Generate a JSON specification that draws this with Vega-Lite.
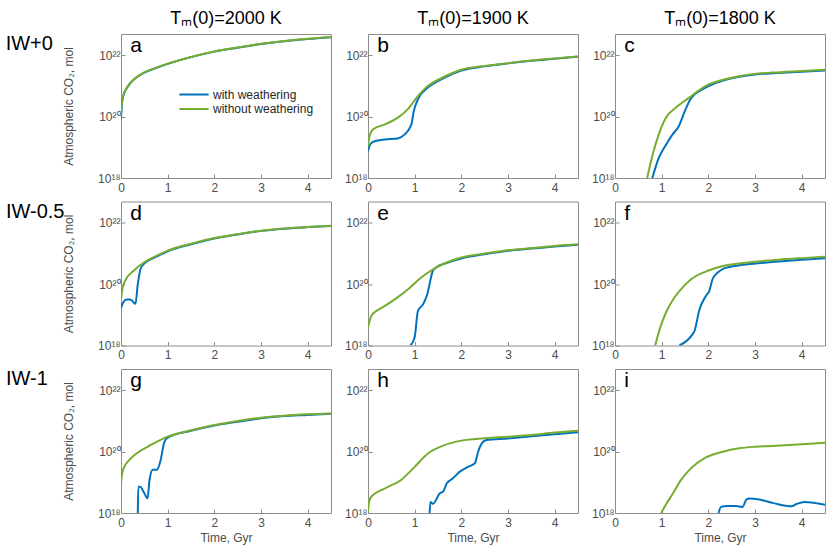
{
  "$schema": "https://vega.github.io/schema/vega-lite/v6.json",
  "padding": {"left": 5, "top": 9, "right": 3, "bottom": 3},
  "datasets": {
    "runs": [
      {"panel": "a", "series": "with weathering", "time": 0, "co2": 8.9e19},
      {"panel": "a", "series": "with weathering", "time": 0.02, "co2": 2.6e20},
      {"panel": "a", "series": "with weathering", "time": 0.05, "co2": 4.8e20},
      {"panel": "a", "series": "with weathering", "time": 0.1, "co2": 7.4e20},
      {"panel": "a", "series": "with weathering", "time": 0.2, "co2": 1.24e21},
      {"panel": "a", "series": "with weathering", "time": 0.3, "co2": 1.75e21},
      {"panel": "a", "series": "with weathering", "time": 0.5, "co2": 2.75e21},
      {"panel": "a", "series": "with weathering", "time": 0.7, "co2": 3.65e21},
      {"panel": "a", "series": "with weathering", "time": 1, "co2": 5.3e21},
      {"panel": "a", "series": "with weathering", "time": 1.5, "co2": 8.8e21},
      {"panel": "a", "series": "with weathering", "time": 2, "co2": 1.33e22},
      {"panel": "a", "series": "with weathering", "time": 2.5, "co2": 1.78e22},
      {"panel": "a", "series": "with weathering", "time": 3, "co2": 2.35e22},
      {"panel": "a", "series": "with weathering", "time": 3.5, "co2": 2.9e22},
      {"panel": "a", "series": "with weathering", "time": 4, "co2": 3.45e22},
      {"panel": "a", "series": "with weathering", "time": 4.5, "co2": 3.95e22},
      {"panel": "a", "series": "without weathering", "time": 0, "co2": 1.1e20},
      {"panel": "a", "series": "without weathering", "time": 0.02, "co2": 2.8e20},
      {"panel": "a", "series": "without weathering", "time": 0.05, "co2": 5.0e20},
      {"panel": "a", "series": "without weathering", "time": 0.1, "co2": 7.6e20},
      {"panel": "a", "series": "without weathering", "time": 0.2, "co2": 1.26e21},
      {"panel": "a", "series": "without weathering", "time": 0.3, "co2": 1.78e21},
      {"panel": "a", "series": "without weathering", "time": 0.5, "co2": 2.8e21},
      {"panel": "a", "series": "without weathering", "time": 0.7, "co2": 3.7e21},
      {"panel": "a", "series": "without weathering", "time": 1, "co2": 5.4e21},
      {"panel": "a", "series": "without weathering", "time": 1.5, "co2": 8.9e21},
      {"panel": "a", "series": "without weathering", "time": 2, "co2": 1.35e22},
      {"panel": "a", "series": "without weathering", "time": 2.5, "co2": 1.8e22},
      {"panel": "a", "series": "without weathering", "time": 3, "co2": 2.4e22},
      {"panel": "a", "series": "without weathering", "time": 3.5, "co2": 2.95e22},
      {"panel": "a", "series": "without weathering", "time": 4, "co2": 3.5e22},
      {"panel": "a", "series": "without weathering", "time": 4.5, "co2": 4.0e22},

      {"panel": "b", "series": "with weathering", "time": 0, "co2": 7.6e18},
      {"panel": "b", "series": "with weathering", "time": 0.05, "co2": 1.26e19},
      {"panel": "b", "series": "with weathering", "time": 0.14, "co2": 1.58e19},
      {"panel": "b", "series": "with weathering", "time": 0.36, "co2": 1.8e19},
      {"panel": "b", "series": "with weathering", "time": 0.64, "co2": 1.95e19},
      {"panel": "b", "series": "with weathering", "time": 0.78, "co2": 2.6e19},
      {"panel": "b", "series": "with weathering", "time": 0.93, "co2": 5.6e19},
      {"panel": "b", "series": "with weathering", "time": 0.98, "co2": 1.5e20},
      {"panel": "b", "series": "with weathering", "time": 1.07, "co2": 3.7e20},
      {"panel": "b", "series": "with weathering", "time": 1.28, "co2": 8.9e20},
      {"panel": "b", "series": "with weathering", "time": 1.57, "co2": 1.66e21},
      {"panel": "b", "series": "with weathering", "time": 2, "co2": 3.2e21},
      {"panel": "b", "series": "with weathering", "time": 2.5, "co2": 4.4e21},
      {"panel": "b", "series": "with weathering", "time": 3, "co2": 5.5e21},
      {"panel": "b", "series": "with weathering", "time": 3.5, "co2": 6.7e21},
      {"panel": "b", "series": "with weathering", "time": 4, "co2": 7.8e21},
      {"panel": "b", "series": "with weathering", "time": 4.5, "co2": 9.1e21},
      {"panel": "b", "series": "without weathering", "time": 0, "co2": 1.1e19},
      {"panel": "b", "series": "without weathering", "time": 0.03, "co2": 2.2e19},
      {"panel": "b", "series": "without weathering", "time": 0.11, "co2": 3.9e19},
      {"panel": "b", "series": "without weathering", "time": 0.36, "co2": 5.6e19},
      {"panel": "b", "series": "without weathering", "time": 0.64, "co2": 9.3e19},
      {"panel": "b", "series": "without weathering", "time": 0.85, "co2": 1.74e20},
      {"panel": "b", "series": "without weathering", "time": 1.07, "co2": 4.7e20},
      {"panel": "b", "series": "without weathering", "time": 1.28, "co2": 1.0e21},
      {"panel": "b", "series": "without weathering", "time": 1.57, "co2": 1.8e21},
      {"panel": "b", "series": "without weathering", "time": 2, "co2": 3.4e21},
      {"panel": "b", "series": "without weathering", "time": 2.5, "co2": 4.5e21},
      {"panel": "b", "series": "without weathering", "time": 3, "co2": 5.6e21},
      {"panel": "b", "series": "without weathering", "time": 3.5, "co2": 6.8e21},
      {"panel": "b", "series": "without weathering", "time": 4, "co2": 7.9e21},
      {"panel": "b", "series": "without weathering", "time": 4.5, "co2": 9.3e21},

      {"panel": "c", "series": "with weathering", "time": 0.8, "co2": 1.0e18},
      {"panel": "c", "series": "with weathering", "time": 0.94, "co2": 4.6e18},
      {"panel": "c", "series": "with weathering", "time": 1.1, "co2": 1.26e19},
      {"panel": "c", "series": "with weathering", "time": 1.23, "co2": 2.6e19},
      {"panel": "c", "series": "with weathering", "time": 1.37, "co2": 5.0e19},
      {"panel": "c", "series": "with weathering", "time": 1.5, "co2": 1.58e20},
      {"panel": "c", "series": "with weathering", "time": 1.62, "co2": 3.8e20},
      {"panel": "c", "series": "with weathering", "time": 1.94, "co2": 8.9e20},
      {"panel": "c", "series": "with weathering", "time": 2.3, "co2": 1.48e21},
      {"panel": "c", "series": "with weathering", "time": 2.66, "co2": 2.0e21},
      {"panel": "c", "series": "with weathering", "time": 3, "co2": 2.4e21},
      {"panel": "c", "series": "with weathering", "time": 3.37, "co2": 2.6e21},
      {"panel": "c", "series": "with weathering", "time": 4, "co2": 2.95e21},
      {"panel": "c", "series": "with weathering", "time": 4.5, "co2": 3.2e21},
      {"panel": "c", "series": "without weathering", "time": 0.69, "co2": 1.0e18},
      {"panel": "c", "series": "without weathering", "time": 0.78, "co2": 4.0e18},
      {"panel": "c", "series": "without weathering", "time": 0.87, "co2": 1.26e19},
      {"panel": "c", "series": "without weathering", "time": 0.98, "co2": 4.0e19},
      {"panel": "c", "series": "without weathering", "time": 1.09, "co2": 9.3e19},
      {"panel": "c", "series": "without weathering", "time": 1.3, "co2": 1.95e20},
      {"panel": "c", "series": "without weathering", "time": 1.59, "co2": 4.2e20},
      {"panel": "c", "series": "without weathering", "time": 1.94, "co2": 1.0e21},
      {"panel": "c", "series": "without weathering", "time": 2.3, "co2": 1.58e21},
      {"panel": "c", "series": "without weathering", "time": 2.66, "co2": 2.1e21},
      {"panel": "c", "series": "without weathering", "time": 3, "co2": 2.5e21},
      {"panel": "c", "series": "without weathering", "time": 3.37, "co2": 2.75e21},
      {"panel": "c", "series": "without weathering", "time": 4, "co2": 3.1e21},
      {"panel": "c", "series": "without weathering", "time": 4.5, "co2": 3.4e21},

      {"panel": "d", "series": "with weathering", "time": 0, "co2": 1.7e19},
      {"panel": "d", "series": "with weathering", "time": 0.05, "co2": 2.6e19},
      {"panel": "d", "series": "with weathering", "time": 0.12, "co2": 3.2e19},
      {"panel": "d", "series": "with weathering", "time": 0.2, "co2": 3.2e19},
      {"panel": "d", "series": "with weathering", "time": 0.31, "co2": 2.3e19},
      {"panel": "d", "series": "with weathering", "time": 0.36, "co2": 1.0e20},
      {"panel": "d", "series": "with weathering", "time": 0.42, "co2": 3.2e20},
      {"panel": "d", "series": "with weathering", "time": 0.49, "co2": 4.6e20},
      {"panel": "d", "series": "with weathering", "time": 0.75, "co2": 7.8e20},
      {"panel": "d", "series": "with weathering", "time": 0.99, "co2": 1.17e21},
      {"panel": "d", "series": "with weathering", "time": 1.5, "co2": 2.0e21},
      {"panel": "d", "series": "with weathering", "time": 2, "co2": 3.1e21},
      {"panel": "d", "series": "with weathering", "time": 2.5, "co2": 4.2e21},
      {"panel": "d", "series": "with weathering", "time": 3, "co2": 5.5e21},
      {"panel": "d", "series": "with weathering", "time": 3.5, "co2": 6.5e21},
      {"panel": "d", "series": "with weathering", "time": 4, "co2": 7.3e21},
      {"panel": "d", "series": "with weathering", "time": 4.5, "co2": 8.0e21},
      {"panel": "d", "series": "without weathering", "time": 0, "co2": 3.2e19},
      {"panel": "d", "series": "without weathering", "time": 0.03, "co2": 7.1e19},
      {"panel": "d", "series": "without weathering", "time": 0.09, "co2": 1.3e20},
      {"panel": "d", "series": "without weathering", "time": 0.27, "co2": 2.75e20},
      {"panel": "d", "series": "without weathering", "time": 0.49, "co2": 5.1e20},
      {"panel": "d", "series": "without weathering", "time": 0.75, "co2": 8.3e20},
      {"panel": "d", "series": "without weathering", "time": 0.99, "co2": 1.23e21},
      {"panel": "d", "series": "without weathering", "time": 1.5, "co2": 2.1e21},
      {"panel": "d", "series": "without weathering", "time": 2, "co2": 3.2e21},
      {"panel": "d", "series": "without weathering", "time": 2.5, "co2": 4.3e21},
      {"panel": "d", "series": "without weathering", "time": 3, "co2": 5.6e21},
      {"panel": "d", "series": "without weathering", "time": 3.5, "co2": 6.6e21},
      {"panel": "d", "series": "without weathering", "time": 4, "co2": 7.4e21},
      {"panel": "d", "series": "without weathering", "time": 4.5, "co2": 8.1e21},

      {"panel": "e", "series": "with weathering", "time": 0.91, "co2": 1.0e18},
      {"panel": "e", "series": "with weathering", "time": 1, "co2": 1.86e18},
      {"panel": "e", "series": "with weathering", "time": 1.07, "co2": 1.35e19},
      {"panel": "e", "series": "with weathering", "time": 1.18, "co2": 2.2e19},
      {"panel": "e", "series": "with weathering", "time": 1.27, "co2": 4.7e19},
      {"panel": "e", "series": "with weathering", "time": 1.39, "co2": 2.75e20},
      {"panel": "e", "series": "with weathering", "time": 1.46, "co2": 3.5e20},
      {"panel": "e", "series": "with weathering", "time": 1.7, "co2": 5.0e20},
      {"panel": "e", "series": "with weathering", "time": 2, "co2": 6.9e20},
      {"panel": "e", "series": "with weathering", "time": 2.5, "co2": 9.5e20},
      {"panel": "e", "series": "with weathering", "time": 3, "co2": 1.23e21},
      {"panel": "e", "series": "with weathering", "time": 3.5, "co2": 1.45e21},
      {"panel": "e", "series": "with weathering", "time": 4, "co2": 1.7e21},
      {"panel": "e", "series": "with weathering", "time": 4.5, "co2": 1.95e21},
      {"panel": "e", "series": "without weathering", "time": 0, "co2": 3.8e18},
      {"panel": "e", "series": "without weathering", "time": 0.07, "co2": 9.1e18},
      {"panel": "e", "series": "without weathering", "time": 0.2, "co2": 1.4e19},
      {"panel": "e", "series": "without weathering", "time": 0.36, "co2": 1.95e19},
      {"panel": "e", "series": "without weathering", "time": 0.64, "co2": 3.8e19},
      {"panel": "e", "series": "without weathering", "time": 0.86, "co2": 6.9e19},
      {"panel": "e", "series": "without weathering", "time": 1.14, "co2": 1.66e20},
      {"panel": "e", "series": "without weathering", "time": 1.43, "co2": 3.3e20},
      {"panel": "e", "series": "without weathering", "time": 1.7, "co2": 5.2e20},
      {"panel": "e", "series": "without weathering", "time": 2, "co2": 7.4e20},
      {"panel": "e", "series": "without weathering", "time": 2.5, "co2": 1.0e21},
      {"panel": "e", "series": "without weathering", "time": 3, "co2": 1.29e21},
      {"panel": "e", "series": "without weathering", "time": 3.5, "co2": 1.5e21},
      {"panel": "e", "series": "without weathering", "time": 4, "co2": 1.78e21},
      {"panel": "e", "series": "without weathering", "time": 4.5, "co2": 2.0e21},

      {"panel": "f", "series": "with weathering", "time": 1.38, "co2": 1.0e18},
      {"panel": "f", "series": "with weathering", "time": 1.66, "co2": 2.3e18},
      {"panel": "f", "series": "with weathering", "time": 1.7, "co2": 2.9e18},
      {"panel": "f", "series": "with weathering", "time": 1.81, "co2": 1.5e19},
      {"panel": "f", "series": "with weathering", "time": 1.95, "co2": 4.2e19},
      {"panel": "f", "series": "with weathering", "time": 2.02, "co2": 6.0e19},
      {"panel": "f", "series": "with weathering", "time": 2.09, "co2": 1.45e20},
      {"panel": "f", "series": "with weathering", "time": 2.2, "co2": 2.4e20},
      {"panel": "f", "series": "with weathering", "time": 2.34, "co2": 3.3e20},
      {"panel": "f", "series": "with weathering", "time": 2.7, "co2": 4.2e20},
      {"panel": "f", "series": "with weathering", "time": 3.06, "co2": 4.8e20},
      {"panel": "f", "series": "with weathering", "time": 3.5, "co2": 5.5e20},
      {"panel": "f", "series": "with weathering", "time": 4, "co2": 6.3e20},
      {"panel": "f", "series": "with weathering", "time": 4.5, "co2": 7.1e20},
      {"panel": "f", "series": "without weathering", "time": 0.86, "co2": 1.0e18},
      {"panel": "f", "series": "without weathering", "time": 0.99, "co2": 4.8e18},
      {"panel": "f", "series": "without weathering", "time": 1.1, "co2": 1.26e19},
      {"panel": "f", "series": "without weathering", "time": 1.27, "co2": 3.6e19},
      {"panel": "f", "series": "without weathering", "time": 1.45, "co2": 7.9e19},
      {"panel": "f", "series": "without weathering", "time": 1.63, "co2": 1.45e20},
      {"panel": "f", "series": "without weathering", "time": 1.99, "co2": 2.75e20},
      {"panel": "f", "series": "without weathering", "time": 2.34, "co2": 4.0e20},
      {"panel": "f", "series": "without weathering", "time": 2.7, "co2": 4.8e20},
      {"panel": "f", "series": "without weathering", "time": 3.06, "co2": 5.5e20},
      {"panel": "f", "series": "without weathering", "time": 3.5, "co2": 6.3e20},
      {"panel": "f", "series": "without weathering", "time": 4, "co2": 7.1e20},
      {"panel": "f", "series": "without weathering", "time": 4.5, "co2": 7.9e20},

      {"panel": "g", "series": "with weathering", "time": 0.36, "co2": 1.0e18},
      {"panel": "g", "series": "with weathering", "time": 0.37, "co2": 7.2e18},
      {"panel": "g", "series": "with weathering", "time": 0.41, "co2": 7.2e18},
      {"panel": "g", "series": "with weathering", "time": 0.5, "co2": 4.4e18},
      {"panel": "g", "series": "with weathering", "time": 0.57, "co2": 3.0e18},
      {"panel": "g", "series": "with weathering", "time": 0.61, "co2": 1.17e19},
      {"panel": "g", "series": "with weathering", "time": 0.68, "co2": 2.6e19},
      {"panel": "g", "series": "with weathering", "time": 0.77, "co2": 2.6e19},
      {"panel": "g", "series": "with weathering", "time": 0.84, "co2": 4.6e19},
      {"panel": "g", "series": "with weathering", "time": 0.93, "co2": 2.1e20},
      {"panel": "g", "series": "with weathering", "time": 1, "co2": 2.9e20},
      {"panel": "g", "series": "with weathering", "time": 1.5, "co2": 4.8e20},
      {"panel": "g", "series": "with weathering", "time": 2, "co2": 7.1e20},
      {"panel": "g", "series": "with weathering", "time": 2.5, "co2": 9.5e20},
      {"panel": "g", "series": "with weathering", "time": 3, "co2": 1.23e21},
      {"panel": "g", "series": "with weathering", "time": 3.5, "co2": 1.45e21},
      {"panel": "g", "series": "with weathering", "time": 4, "co2": 1.58e21},
      {"panel": "g", "series": "with weathering", "time": 4.5, "co2": 1.74e21},
      {"panel": "g", "series": "without weathering", "time": 0, "co2": 9.3e18},
      {"panel": "g", "series": "without weathering", "time": 0.02, "co2": 1.78e19},
      {"panel": "g", "series": "without weathering", "time": 0.07, "co2": 3.2e19},
      {"panel": "g", "series": "without weathering", "time": 0.15, "co2": 4.8e19},
      {"panel": "g", "series": "without weathering", "time": 0.29, "co2": 7.8e19},
      {"panel": "g", "series": "without weathering", "time": 0.64, "co2": 1.66e20},
      {"panel": "g", "series": "without weathering", "time": 1, "co2": 3.1e20},
      {"panel": "g", "series": "without weathering", "time": 1.5, "co2": 5.0e20},
      {"panel": "g", "series": "without weathering", "time": 2, "co2": 7.4e20},
      {"panel": "g", "series": "without weathering", "time": 2.5, "co2": 1.0e21},
      {"panel": "g", "series": "without weathering", "time": 3, "co2": 1.29e21},
      {"panel": "g", "series": "without weathering", "time": 3.5, "co2": 1.5e21},
      {"panel": "g", "series": "without weathering", "time": 4, "co2": 1.66e21},
      {"panel": "g", "series": "without weathering", "time": 4.5, "co2": 1.78e21},

      {"panel": "h", "series": "with weathering", "time": 1.32, "co2": 1.0e18},
      {"panel": "h", "series": "with weathering", "time": 1.34, "co2": 2.3e18},
      {"panel": "h", "series": "with weathering", "time": 1.39, "co2": 2.0e18},
      {"panel": "h", "series": "with weathering", "time": 1.54, "co2": 4.4e18},
      {"panel": "h", "series": "with weathering", "time": 1.61, "co2": 5.0e18},
      {"panel": "h", "series": "with weathering", "time": 1.69, "co2": 9.3e18},
      {"panel": "h", "series": "with weathering", "time": 1.82, "co2": 1.35e19},
      {"panel": "h", "series": "with weathering", "time": 1.96, "co2": 2.2e19},
      {"panel": "h", "series": "with weathering", "time": 2.14, "co2": 3.2e19},
      {"panel": "h", "series": "with weathering", "time": 2.29, "co2": 4.2e19},
      {"panel": "h", "series": "with weathering", "time": 2.36, "co2": 1.0e20},
      {"panel": "h", "series": "with weathering", "time": 2.43, "co2": 1.78e20},
      {"panel": "h", "series": "with weathering", "time": 2.54, "co2": 2.4e20},
      {"panel": "h", "series": "with weathering", "time": 3, "co2": 2.7e20},
      {"panel": "h", "series": "with weathering", "time": 3.5, "co2": 3.2e20},
      {"panel": "h", "series": "with weathering", "time": 4, "co2": 3.7e20},
      {"panel": "h", "series": "with weathering", "time": 4.5, "co2": 4.3e20},
      {"panel": "h", "series": "without weathering", "time": 0, "co2": 1.07e18},
      {"panel": "h", "series": "without weathering", "time": 0.02, "co2": 2.2e18},
      {"panel": "h", "series": "without weathering", "time": 0.07, "co2": 3.4e18},
      {"panel": "h", "series": "without weathering", "time": 0.36, "co2": 6.3e18},
      {"panel": "h", "series": "without weathering", "time": 0.71, "co2": 1.2e19},
      {"panel": "h", "series": "without weathering", "time": 1, "co2": 3.2e19},
      {"panel": "h", "series": "without weathering", "time": 1.29, "co2": 8.9e19},
      {"panel": "h", "series": "without weathering", "time": 1.57, "co2": 1.5e20},
      {"panel": "h", "series": "without weathering", "time": 2, "co2": 2.3e20},
      {"panel": "h", "series": "without weathering", "time": 2.5, "co2": 2.75e20},
      {"panel": "h", "series": "without weathering", "time": 3, "co2": 3.1e20},
      {"panel": "h", "series": "without weathering", "time": 3.5, "co2": 3.5e20},
      {"panel": "h", "series": "without weathering", "time": 4, "co2": 4.2e20},
      {"panel": "h", "series": "without weathering", "time": 4.5, "co2": 4.8e20},

      {"panel": "i", "series": "with weathering", "time": 2.22, "co2": 1.0e18},
      {"panel": "i", "series": "with weathering", "time": 2.27, "co2": 1.58e18},
      {"panel": "i", "series": "with weathering", "time": 2.41, "co2": 1.7e18},
      {"panel": "i", "series": "with weathering", "time": 2.6, "co2": 1.7e18},
      {"panel": "i", "series": "with weathering", "time": 2.73, "co2": 1.58e18},
      {"panel": "i", "series": "with weathering", "time": 2.82, "co2": 2.8e18},
      {"panel": "i", "series": "with weathering", "time": 2.88, "co2": 2.95e18},
      {"panel": "i", "series": "with weathering", "time": 3.06, "co2": 2.8e18},
      {"panel": "i", "series": "with weathering", "time": 3.4, "co2": 2.1e18},
      {"panel": "i", "series": "with weathering", "time": 3.78, "co2": 1.66e18},
      {"panel": "i", "series": "with weathering", "time": 3.9, "co2": 2.0e18},
      {"panel": "i", "series": "with weathering", "time": 4.06, "co2": 2.3e18},
      {"panel": "i", "series": "with weathering", "time": 4.3, "co2": 2.1e18},
      {"panel": "i", "series": "with weathering", "time": 4.5, "co2": 1.86e18},
      {"panel": "i", "series": "without weathering", "time": 0.99, "co2": 1.0e18},
      {"panel": "i", "series": "without weathering", "time": 1.1, "co2": 2.0e18},
      {"panel": "i", "series": "without weathering", "time": 1.24, "co2": 4.3e18},
      {"panel": "i", "series": "without weathering", "time": 1.4, "co2": 1.12e19},
      {"panel": "i", "series": "without weathering", "time": 1.59, "co2": 2.5e19},
      {"panel": "i", "series": "without weathering", "time": 1.95, "co2": 6.5e19},
      {"panel": "i", "series": "without weathering", "time": 2.31, "co2": 1.0e20},
      {"panel": "i", "series": "without weathering", "time": 2.66, "co2": 1.29e20},
      {"panel": "i", "series": "without weathering", "time": 3, "co2": 1.45e20},
      {"panel": "i", "series": "without weathering", "time": 3.38, "co2": 1.55e20},
      {"panel": "i", "series": "without weathering", "time": 4, "co2": 1.74e20},
      {"panel": "i", "series": "without weathering", "time": 4.5, "co2": 1.95e20}
    ]
  },
  "spacing": 6.5,
  "resolve": {"scale": {"color": "independent"}, "legend": {"color": "independent"}},
  "vconcat": [
    {
      "title": {"text": "IW+0", "orient": "left", "angle": 0, "align": "left", "baseline": "top", "anchor": "end", "frame": "group", "offset": 9.2, "fontSize": 20},
      "spacing": 37,
      "bounds": "flush",
      "resolve": {"scale": {"color": "independent"}, "legend": {"color": "independent"}},
      "hconcat": [
        {
          "width": 210, "height": 144,
          "title": {"text": "Tₘ(0)=2000 K"},
          "layer": [
            {
              "data": {"name": "runs"},
              "transform": [{"filter": "datum.panel == 'a'"}],
              "mark": {"type": "line", "interpolate": "monotone", "strokeWidth": 2, "clip": true},
              "encoding": {
                "x": {"field": "time", "type": "quantitative", "scale": {"domain": [0, 4.5], "nice": false}, "axis": {"values": [0, 1, 2, 3, 4], "title": null}},
                "y": {"field": "co2", "type": "quantitative", "scale": {"type": "log", "domain": [1e18, 5e22], "nice": false}, "axis": {"values": [1e18, 1e20, 1e22], "labelExpr": "datum.value >= 1e22 ? '10²²' : datum.value >= 1e20 ? '10²⁰' : '10¹⁸'", "title": "Atmospheric CO₂, mol"}},
                "color": {"field": "series", "type": "nominal", "scale": {"domain": ["with weathering", "without weathering"], "range": ["#0072BD", "#77AC30"]},
                  "legend": {"orient": "none", "legendX": 65, "legendY": 52.5, "title": null, "symbolType": "M-2.25,0H2.25", "symbolSize": 170, "symbolStrokeWidth": 2, "labelFontSize": 12, "labelColor": "#262626", "labelOffset": 11, "rowPadding": 0.5, "padding": 0}}
              }
            },
            {
              "data": {"values": [{"label": "a"}]},
              "mark": {"type": "text", "align": "left", "baseline": "top", "fontSize": 21, "dy": 1},
              "encoding": {"x": {"datum": 0.2}, "y": {"datum": 5e22}, "text": {"field": "label"}}
            }
          ]
        },
        {
          "width": 210, "height": 144,
          "title": {"text": "Tₘ(0)=1900 K"},
          "layer": [
            {
              "data": {"name": "runs"},
              "transform": [{"filter": "datum.panel == 'b'"}],
              "mark": {"type": "line", "interpolate": "monotone", "strokeWidth": 2, "clip": true},
              "encoding": {
                "x": {"field": "time", "type": "quantitative", "scale": {"domain": [0, 4.5], "nice": false}, "axis": {"values": [0, 1, 2, 3, 4], "title": null}},
                "y": {"field": "co2", "type": "quantitative", "scale": {"type": "log", "domain": [1e18, 5e22], "nice": false}, "axis": {"values": [1e18, 1e20, 1e22], "labelExpr": "datum.value >= 1e22 ? '10²²' : datum.value >= 1e20 ? '10²⁰' : '10¹⁸'", "title": null}},
                "color": {"field": "series", "type": "nominal", "scale": {"domain": ["with weathering", "without weathering"], "range": ["#0072BD", "#77AC30"]}, "legend": null}
              }
            },
            {
              "data": {"values": [{"label": "b"}]},
              "mark": {"type": "text", "align": "left", "baseline": "top", "fontSize": 21, "dy": 1},
              "encoding": {"x": {"datum": 0.2}, "y": {"datum": 5e22}, "text": {"field": "label"}}
            }
          ]
        },
        {
          "width": 210, "height": 144,
          "title": {"text": "Tₘ(0)=1800 K"},
          "layer": [
            {
              "data": {"name": "runs"},
              "transform": [{"filter": "datum.panel == 'c'"}],
              "mark": {"type": "line", "interpolate": "monotone", "strokeWidth": 2, "clip": true},
              "encoding": {
                "x": {"field": "time", "type": "quantitative", "scale": {"domain": [0, 4.5], "nice": false}, "axis": {"values": [0, 1, 2, 3, 4], "title": null}},
                "y": {"field": "co2", "type": "quantitative", "scale": {"type": "log", "domain": [1e18, 5e22], "nice": false}, "axis": {"values": [1e18, 1e20, 1e22], "labelExpr": "datum.value >= 1e22 ? '10²²' : datum.value >= 1e20 ? '10²⁰' : '10¹⁸'", "title": null}},
                "color": {"field": "series", "type": "nominal", "scale": {"domain": ["with weathering", "without weathering"], "range": ["#0072BD", "#77AC30"]}, "legend": null}
              }
            },
            {
              "data": {"values": [{"label": "c"}]},
              "mark": {"type": "text", "align": "left", "baseline": "top", "fontSize": 21, "dy": 1},
              "encoding": {"x": {"datum": 0.2}, "y": {"datum": 5e22}, "text": {"field": "label"}}
            }
          ]
        }
      ]
    },
    {
      "title": {"text": "IW-0.5", "orient": "left", "angle": 0, "align": "left", "baseline": "top", "anchor": "end", "frame": "group", "offset": -2.4, "fontSize": 20},
      "spacing": 37,
      "bounds": "flush",
      "resolve": {"scale": {"color": "independent"}, "legend": {"color": "independent"}},
      "hconcat": [
        {
          "width": 210, "height": 144,
          "layer": [
            {
              "data": {"name": "runs"},
              "transform": [{"filter": "datum.panel == 'd'"}],
              "mark": {"type": "line", "interpolate": "monotone", "strokeWidth": 2, "clip": true},
              "encoding": {
                "x": {"field": "time", "type": "quantitative", "scale": {"domain": [0, 4.5], "nice": false}, "axis": {"values": [0, 1, 2, 3, 4], "title": null}},
                "y": {"field": "co2", "type": "quantitative", "scale": {"type": "log", "domain": [1e18, 5e22], "nice": false}, "axis": {"values": [1e18, 1e20, 1e22], "labelExpr": "datum.value >= 1e22 ? '10²²' : datum.value >= 1e20 ? '10²⁰' : '10¹⁸'", "title": "Atmospheric CO₂, mol"}},
                "color": {"field": "series", "type": "nominal", "scale": {"domain": ["with weathering", "without weathering"], "range": ["#0072BD", "#77AC30"]}, "legend": null}
              }
            },
            {
              "data": {"values": [{"label": "d"}]},
              "mark": {"type": "text", "align": "left", "baseline": "top", "fontSize": 21, "dy": 1},
              "encoding": {"x": {"datum": 0.2}, "y": {"datum": 5e22}, "text": {"field": "label"}}
            }
          ]
        },
        {
          "width": 210, "height": 144,
          "layer": [
            {
              "data": {"name": "runs"},
              "transform": [{"filter": "datum.panel == 'e'"}],
              "mark": {"type": "line", "interpolate": "monotone", "strokeWidth": 2, "clip": true},
              "encoding": {
                "x": {"field": "time", "type": "quantitative", "scale": {"domain": [0, 4.5], "nice": false}, "axis": {"values": [0, 1, 2, 3, 4], "title": null}},
                "y": {"field": "co2", "type": "quantitative", "scale": {"type": "log", "domain": [1e18, 5e22], "nice": false}, "axis": {"values": [1e18, 1e20, 1e22], "labelExpr": "datum.value >= 1e22 ? '10²²' : datum.value >= 1e20 ? '10²⁰' : '10¹⁸'", "title": null}},
                "color": {"field": "series", "type": "nominal", "scale": {"domain": ["with weathering", "without weathering"], "range": ["#0072BD", "#77AC30"]}, "legend": null}
              }
            },
            {
              "data": {"values": [{"label": "e"}]},
              "mark": {"type": "text", "align": "left", "baseline": "top", "fontSize": 21, "dy": 1},
              "encoding": {"x": {"datum": 0.2}, "y": {"datum": 5e22}, "text": {"field": "label"}}
            }
          ]
        },
        {
          "width": 210, "height": 144,
          "layer": [
            {
              "data": {"name": "runs"},
              "transform": [{"filter": "datum.panel == 'f'"}],
              "mark": {"type": "line", "interpolate": "monotone", "strokeWidth": 2, "clip": true},
              "encoding": {
                "x": {"field": "time", "type": "quantitative", "scale": {"domain": [0, 4.5], "nice": false}, "axis": {"values": [0, 1, 2, 3, 4], "title": null}},
                "y": {"field": "co2", "type": "quantitative", "scale": {"type": "log", "domain": [1e18, 5e22], "nice": false}, "axis": {"values": [1e18, 1e20, 1e22], "labelExpr": "datum.value >= 1e22 ? '10²²' : datum.value >= 1e20 ? '10²⁰' : '10¹⁸'", "title": null}},
                "color": {"field": "series", "type": "nominal", "scale": {"domain": ["with weathering", "without weathering"], "range": ["#0072BD", "#77AC30"]}, "legend": null}
              }
            },
            {
              "data": {"values": [{"label": "f"}]},
              "mark": {"type": "text", "align": "left", "baseline": "top", "fontSize": 21, "dy": 1},
              "encoding": {"x": {"datum": 0.2}, "y": {"datum": 5e22}, "text": {"field": "label"}}
            }
          ]
        }
      ]
    },
    {
      "title": {"text": "IW-1", "orient": "left", "angle": 0, "align": "left", "baseline": "top", "anchor": "end", "frame": "group", "offset": 14.3, "fontSize": 20},
      "spacing": 37,
      "bounds": "flush",
      "resolve": {"scale": {"color": "independent"}, "legend": {"color": "independent"}},
      "hconcat": [
        {
          "width": 210, "height": 144,
          "layer": [
            {
              "data": {"name": "runs"},
              "transform": [{"filter": "datum.panel == 'g'"}],
              "mark": {"type": "line", "interpolate": "monotone", "strokeWidth": 2, "clip": true},
              "encoding": {
                "x": {"field": "time", "type": "quantitative", "scale": {"domain": [0, 4.5], "nice": false}, "axis": {"values": [0, 1, 2, 3, 4], "title": "Time, Gyr"}},
                "y": {"field": "co2", "type": "quantitative", "scale": {"type": "log", "domain": [1e18, 5e22], "nice": false}, "axis": {"values": [1e18, 1e20, 1e22], "labelExpr": "datum.value >= 1e22 ? '10²²' : datum.value >= 1e20 ? '10²⁰' : '10¹⁸'", "title": "Atmospheric CO₂, mol"}},
                "color": {"field": "series", "type": "nominal", "scale": {"domain": ["with weathering", "without weathering"], "range": ["#0072BD", "#77AC30"]}, "legend": null}
              }
            },
            {
              "data": {"values": [{"label": "g"}]},
              "mark": {"type": "text", "align": "left", "baseline": "top", "fontSize": 21, "dy": 1},
              "encoding": {"x": {"datum": 0.2}, "y": {"datum": 5e22}, "text": {"field": "label"}}
            }
          ]
        },
        {
          "width": 210, "height": 144,
          "layer": [
            {
              "data": {"name": "runs"},
              "transform": [{"filter": "datum.panel == 'h'"}],
              "mark": {"type": "line", "interpolate": "monotone", "strokeWidth": 2, "clip": true},
              "encoding": {
                "x": {"field": "time", "type": "quantitative", "scale": {"domain": [0, 4.5], "nice": false}, "axis": {"values": [0, 1, 2, 3, 4], "title": "Time, Gyr"}},
                "y": {"field": "co2", "type": "quantitative", "scale": {"type": "log", "domain": [1e18, 5e22], "nice": false}, "axis": {"values": [1e18, 1e20, 1e22], "labelExpr": "datum.value >= 1e22 ? '10²²' : datum.value >= 1e20 ? '10²⁰' : '10¹⁸'", "title": null}},
                "color": {"field": "series", "type": "nominal", "scale": {"domain": ["with weathering", "without weathering"], "range": ["#0072BD", "#77AC30"]}, "legend": null}
              }
            },
            {
              "data": {"values": [{"label": "h"}]},
              "mark": {"type": "text", "align": "left", "baseline": "top", "fontSize": 21, "dy": 1},
              "encoding": {"x": {"datum": 0.2}, "y": {"datum": 5e22}, "text": {"field": "label"}}
            }
          ]
        },
        {
          "width": 210, "height": 144,
          "layer": [
            {
              "data": {"name": "runs"},
              "transform": [{"filter": "datum.panel == 'i'"}],
              "mark": {"type": "line", "interpolate": "monotone", "strokeWidth": 2, "clip": true},
              "encoding": {
                "x": {"field": "time", "type": "quantitative", "scale": {"domain": [0, 4.5], "nice": false}, "axis": {"values": [0, 1, 2, 3, 4], "title": "Time, Gyr"}},
                "y": {"field": "co2", "type": "quantitative", "scale": {"type": "log", "domain": [1e18, 5e22], "nice": false}, "axis": {"values": [1e18, 1e20, 1e22], "labelExpr": "datum.value >= 1e22 ? '10²²' : datum.value >= 1e20 ? '10²⁰' : '10¹⁸'", "title": null}},
                "color": {"field": "series", "type": "nominal", "scale": {"domain": ["with weathering", "without weathering"], "range": ["#0072BD", "#77AC30"]}, "legend": null}
              }
            },
            {
              "data": {"values": [{"label": "i"}]},
              "mark": {"type": "text", "align": "left", "baseline": "top", "fontSize": 21, "dy": 1},
              "encoding": {"x": {"datum": 0.2}, "y": {"datum": 5e22}, "text": {"field": "label"}}
            }
          ]
        }
      ]
    }
  ],
  "config": {
    "font": "Liberation Sans",
    "view": {"stroke": "#8c8c8c"},
    "axis": {"grid": false, "domain": false, "tickSize": -4, "tickColor": "#8c8c8c", "labelColor": "#4d4d4d", "labelFontSize": 12, "labelFlush": false, "titleColor": "#4d4d4d", "titleFontSize": 12, "titleFontWeight": "normal"},
    "axisX": {"labelPadding": 8, "titlePadding": 4},
    "axisY": {"labelPadding": 5, "titlePadding": 22},
    "title": {"fontSize": 18, "fontWeight": "normal", "color": "#000000", "anchor": "middle", "frame": "group", "offset": 6},
    "text": {"font": "Liberation Sans", "color": "#000000"}
  }
}
